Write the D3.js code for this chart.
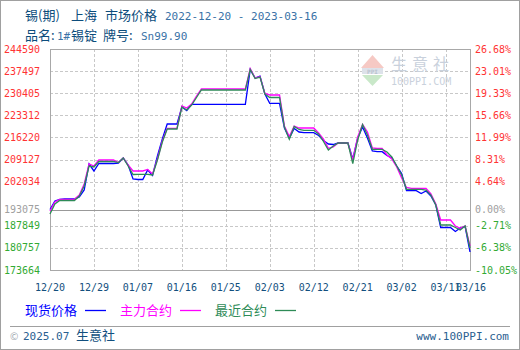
<!DOCTYPE html>
<html>
<head>
<meta charset="utf-8">
<script src="https://cdn.jsdelivr.net/npm/d3@7"></script>
<style>
  body { margin: 0; background: #fff; }
  svg { display: block; }
</style>
</head>
<body>
<svg id="chart" width="520" height="350"></svg>
<script>
// daily values from 2022-12-20 to 2023-03-16 (non trading days hold the last value)
const startDay = new Date(2022, 11, 20);
const endDay = new Date(2023, 2, 16);

const spotPrice = [
  193075, 195810, 196290, 196450, 196450, 196450, 197090, 199340, 207680, 205440,
  207840, 207840, 207840, 207840, 208000, 209610, 207360, 202870, 202710, 202710,
  205760, 203990, 210250, 215710, 220520, 220520, 220520, 225980, 224850, 226840,
  226840, 226840, 226840, 226840, 226840, 226840, 226840, 226840, 226840, 226840,
  226840, 238010, 235280, 235920, 230150, 227160, 227160, 227160, 219240, 215930,
  219080, 217950, 217730, 217730, 217730, 216830, 215220, 214100, 213940, 214420,
  214420, 214420, 209290, 216030, 219560, 216030, 211860, 211630, 211630, 210410,
  209610, 207040, 204630, 199110, 199110, 199110, 198220, 199020, 197410, 194520,
  187300, 187300, 187300, 186020, 187140, 187620, 179440
];
const mainContract = [
  192600, 195490, 196350, 196350, 196350, 196350, 197730, 201260, 207680, 207040,
  208970, 208970, 208970, 208970, 208160, 209610, 207360, 205440, 205440, 205440,
  205920, 204470, 209290, 215060, 219140, 219140, 219140, 226300, 225660, 226940,
  229510, 231750, 231750, 231750, 231750, 231750, 231750, 231750, 231750, 231750,
  231750, 238330, 235280, 235760, 230310, 229830, 229830, 229830, 219880, 216510,
  219880, 219240, 219240, 219240, 219240, 217630, 215710, 212720, 213140, 214420,
  214420, 214420, 208970, 216350, 220360, 217950, 212820, 212660, 212660, 210570,
  209290, 206720, 203190, 200140, 199880, 199880, 199880, 199880, 198060, 194850,
  189710, 189710, 189710, 187790, 187050, 187790, 181370
];
const nearContract = [
  191640, 194850, 195970, 195970, 195970, 195970, 197410, 200620, 207040, 206720,
  208490, 208490, 208490, 208490, 208160, 209610, 207040, 204310, 204380, 204380,
  204380, 204150, 208970, 214740, 218920, 218920, 218920, 225980, 225010, 226620,
  229020, 231430, 231430, 231430, 231430, 231430, 231430, 231430, 231430, 231430,
  231430, 238010, 235120, 235600, 230150, 229020, 229020, 229020, 219560, 215610,
  219720, 218760, 218500, 218500, 218500, 217310, 214900, 212180, 213460, 214420,
  214420, 214420, 207840, 215390, 220360, 216990, 212400, 212400, 212400, 211530,
  209930, 207040, 204150, 199560, 199560, 199560, 199560, 199340, 197730, 194520,
  188110, 188110, 188110, 187300, 186500, 187790, 180720
];

const yTickValues = [244590, 237497, 230405, 223312, 216220, 209127, 202034, 193075, 187849, 180757, 173664];
const yTickPercent = ["26.68%", "23.01%", "19.33%", "15.66%", "11.99%", "8.31%", "4.64%", "0.00%", "-2.71%", "-6.38%", "-10.05%"];
const xTickLabels = ["12/20", "12/29", "01/07", "01/16", "01/25", "02/03", "02/12", "02/21", "03/02", "03/11", "03/16"];
const basePrice = 193075;

const seriesNames = ["现货价格", "主力合约", "最近合约"];
const seriesColors = ["#0000ff", "#ff00ff", "#2e8b57"];

const width = 520, height = 350;
const margin = { top: 49, right: 50, bottom: 80, left: 50 };
const chartW = width - margin.left - margin.right;
const chartH = height - margin.top - margin.bottom;

const cjk = '"Noto Sans CJK SC", sans-serif';
const mono = '"DejaVu Sans Mono", monospace';
const darkBlue = '#0c4d7c', lightBlue = '#3a72a6';

const svg = d3.select('#chart');

// outer frame
svg.append('rect')
  .attr('x', 0.5).attr('y', 0.5)
  .attr('width', width - 1).attr('height', height - 1)
  .attr('fill', '#fff').attr('stroke', '#a0a0a0');

// titles, pieces placed one by one
function titlePart(x, y, txt, isCjk) {
  svg.append('text')
    .attr('x', x).attr('y', y)
    .style('font-family', isCjk ? cjk : mono)
    .style('font-size', isCjk ? '13px' : '11px')
    .attr('fill', isCjk ? darkBlue : lightBlue)
    .text(txt);
}
titlePart(25, 19.5, '锡(期)', true);
titlePart(71, 19.5, '上海', true);
titlePart(105, 19.5, '市场价格', true);
titlePart(165, 19.5, '2022-12-20 - 2023-03-16', false);

titlePart(25, 39.5, '品名:', true);
titlePart(57, 39.5, '1#', false);
titlePart(71, 39.5, '锡锭', true);
titlePart(103, 39.5, '牌号:', true);
titlePart(141, 39.5, 'Sn99.90', false);

const g = svg.append('g').attr('transform', `translate(${margin.left}, ${margin.top})`);

const days = d3.timeDay.range(startDay, d3.timeDay.offset(endDay, 1));

const xScale = d3.scaleTime()
  .domain([startDay, endDay])
  .range([0, chartW]);

const yScale = d3.scaleLinear()
  .domain([yTickValues[yTickValues.length - 1], yTickValues[0]])
  .range([chartH, 0]);

const parseTick = (s) => {
  const [m, d] = s.split('/').map(Number);
  return new Date(m === 12 ? 2022 : 2023, m - 1, d);
};

// vertical dashed grid
g.append('g')
  .selectAll('line')
  .data(xTickLabels.slice(1, -1))
  .enter()
  .append('line')
  .attr('x1', d => Math.round(xScale(parseTick(d))) + 0.5)
  .attr('x2', d => Math.round(xScale(parseTick(d))) + 0.5)
  .attr('y1', 0).attr('y2', chartH)
  .attr('stroke', '#c8c8c8')
  .attr('stroke-dasharray', '3,2');

// horizontal dashed grid
g.append('g')
  .selectAll('line')
  .data(yTickValues.filter(v => v !== basePrice).slice(1, -1))
  .enter()
  .append('line')
  .attr('x1', 0).attr('x2', chartW)
  .attr('y1', d => Math.round(yScale(d)) + 0.5)
  .attr('y2', d => Math.round(yScale(d)) + 0.5)
  .attr('stroke', '#c8c8c8')
  .attr('stroke-dasharray', '3,2');

// base line
g.append('line')
  .attr('x1', 0).attr('x2', chartW)
  .attr('y1', Math.round(yScale(basePrice)) + 0.5)
  .attr('y2', Math.round(yScale(basePrice)) + 0.5)
  .attr('stroke', '#999');

// frame of plot
g.append('rect')
  .attr('x', 0.5).attr('y', 0.5)
  .attr('width', chartW).attr('height', chartH)
  .attr('fill', 'none').attr('stroke', '#a8a8a8');

// watermark
const wm = g.append('g').attr('transform', 'translate(311, 6)');
wm.append('path').attr('d', 'M11.5,0 L0,13 L23,13 Z').attr('fill', '#f6c9c4');
wm.append('rect').attr('x', 1).attr('y', 13).attr('width', 21).attr('height', 6).attr('fill', '#dde2ea');
wm.append('text').attr('x', 11.5).attr('y', 18.5).attr('text-anchor', 'middle')
  .style('font-family', mono).style('font-size', '6px').style('font-weight', 'bold')
  .attr('fill', '#b9c2cf').text('PPI');
wm.append('path').attr('d', 'M1,20 L22,20 L11.5,31 Z').attr('fill', '#c9e8c9');
wm.append('text').attr('x', 30).attr('y', 15).style('font-family', cjk).style('font-size', '16px')
  .style('letter-spacing', '5px').attr('fill', '#c9d1dc').text('生意社');
wm.append('text').attr('x', 30).attr('y', 30).style('font-family', mono).style('font-size', '10px')
  .attr('fill', '#c9d1dc').text('100PPI.COM');

// series lines
const line = d3.line()
  .x((d, i) => xScale(days[i]))
  .y(d => yScale(d));

[spotPrice, mainContract, nearContract].forEach((values, k) => {
  g.append('path')
    .datum(values)
    .attr('fill', 'none')
    .attr('stroke', seriesColors[k])
    .attr('stroke-width', 1.3)
    .attr('d', line);
});

// left axis labels
const labelColor = (v) => v > basePrice ? '#ff3333' : (v < basePrice ? '#33aa33' : '#a0a0a0');
g.append('g')
  .selectAll('text')
  .data(yTickValues)
  .enter()
  .append('text')
  .attr('x', -10)
  .attr('y', d => yScale(d))
  .attr('dy', '0.36em')
  .attr('text-anchor', 'end')
  .style('font-family', mono).style('font-size', '10px')
  .attr('fill', d => labelColor(d))
  .text(d => d);

// right axis labels
g.append('g')
  .selectAll('text')
  .data(yTickValues)
  .enter()
  .append('text')
  .attr('x', chartW + 5)
  .attr('y', d => yScale(d))
  .attr('dy', '0.36em')
  .style('font-family', mono).style('font-size', '10px')
  .attr('fill', d => labelColor(d))
  .text((d, i) => yTickPercent[i]);

// x labels (last two sit very close, as in the source)
g.append('g')
  .selectAll('text')
  .data(xTickLabels)
  .enter()
  .append('text')
  .attr('x', d => xScale(parseTick(d)) + (d === '03/16' ? 1 : 0))
  .attr('y', chartH + 21)
  .attr('text-anchor', 'middle')
  .style('font-family', mono).style('font-size', '10px')
  .attr('fill', '#124f7e')
  .text(d => d);

// legend
const legendX = [25, 120, 215];
seriesNames.forEach((name, k) => {
  svg.append('text')
    .attr('x', legendX[k]).attr('y', 314.5)
    .style('font-family', cjk).style('font-size', '13px')
    .attr('fill', seriesColors[k])
    .text(name);
  svg.append('line')
    .attr('x1', legendX[k] + 60).attr('x2', legendX[k] + 81)
    .attr('y1', 310.5).attr('y2', 310.5)
    .attr('stroke', seriesColors[k]).attr('stroke-width', 1.3);
});

// footer
svg.append('line')
  .attr('x1', 10).attr('x2', 510)
  .attr('y1', 326.5).attr('y2', 326.5)
  .attr('stroke', '#a0a0a0');

const ft = svg.append('text').attr('x', 10).attr('y', 339.5);
ft.append('tspan').style('font-family', cjk).style('font-size', '10px').attr('fill', '#a0a8b0').text('©');
ft.append('tspan').attr('x', 23).style('font-family', mono).style('font-size', '11px').attr('fill', '#2a6090').text('2025.07');
ft.append('tspan').attr('x', 76).style('font-family', cjk).style('font-size', '13px').attr('fill', '#124f7e').text('生意社');

svg.append('text')
  .attr('x', 509).attr('y', 339.5)
  .attr('text-anchor', 'end')
  .style('font-family', mono).style('font-size', '11px')
  .attr('fill', '#2a6090')
  .text('www.100PPI.com');
</script>
</body>
</html>
